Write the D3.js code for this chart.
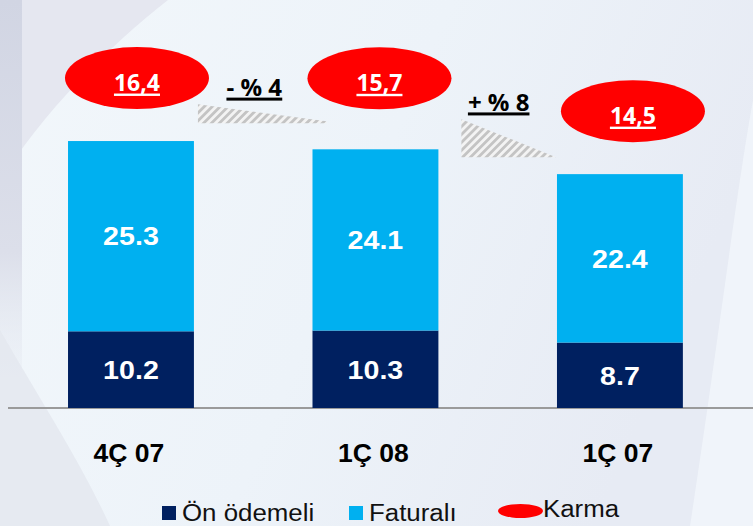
<!DOCTYPE html>
<html><head><meta charset="utf-8">
<script src="https://cdn.jsdelivr.net/npm/d3@7"></script>
<style>html,body{margin:0;padding:0;overflow:hidden;background:#eef4fa}</style>
</head><body>
<svg id="c" width="753" height="526"></svg>
<script>
// ---- data ----
const categories = ["4Ç 07", "1Ç 08", "1Ç 07"];
const onOdemeli = [10.2, 10.3, 8.7];
const faturali = [25.3, 24.1, 22.4];
const karma = [16.4, 15.7, 14.5];
const changeLabels = ["- % 4", "+ % 8"];
const changeValues = [4, 8];
const legendLabels = ["Ön ödemeli", "Faturalı", "Karma"];

// ---- layout ----
const W = 753, H = 526;
const colors = { on: "#002060", fat: "#00b0f0", karma: "#ff0000" };
const karmaDx = [6, 4, 13], karmaLift = [63, 71, 63];
const triGap = [26, 17];
const calibriLike = "'Open Sans', Lato, sans-serif";

const svg = d3.select("#c");
const defs = svg.append("defs");

// background
const g1 = defs.append("linearGradient").attr("id", "bg").attr("x1", 0).attr("y1", 0).attr("x2", 1).attr("y2", 0.3);
g1.append("stop").attr("offset", 0).attr("stop-color", "#f2f7fb");
g1.append("stop").attr("offset", 0.55).attr("stop-color", "#edf3f9");
g1.append("stop").attr("offset", 1).attr("stop-color", "#e7ebf4");
svg.append("rect").attr("width", W).attr("height", H).attr("fill", "url(#bg)");
svg.append("path").attr("d", "M0,0H168C110,45 40,115 0,182Z").attr("fill", "#e5e7f0");
const g2 = defs.append("linearGradient").attr("id", "strip").attr("x1", 0).attr("y1", 0).attr("x2", 0).attr("y2", 1);
g2.append("stop").attr("offset", 0).attr("stop-color", "#d1d5e3");
g2.append("stop").attr("offset", 0.6).attr("stop-color", "#dcdfea");
g2.append("stop").attr("offset", 1).attr("stop-color", "#e8ecf3").attr("stop-opacity", 0);
svg.append("rect").attr("width", 22).attr("height", 420).attr("fill", "url(#strip)");
svg.append("path").attr("d", "M0,330C40,400 80,460 110,526H0Z").attr("fill", "#e4e7ef").attr("opacity", 0.8);
svg.append("path").attr("d", "M753,100C735,200 720,330 690,526H753Z").attr("fill", "#f4f8fc").attr("opacity", 0.7);

// hatch pattern
const pat = defs.append("pattern").attr("id", "hatch").attr("patternUnits", "userSpaceOnUse")
  .attr("width", 5.6).attr("height", 5.6).attr("patternTransform", "rotate(45)");
pat.append("rect").attr("width", 5.6).attr("height", 5.6).attr("fill", "#f3f3f3");
pat.append("rect").attr("width", 2.8).attr("height", 5.6).attr("fill", "#c4c4c4");

// scales
const x = d3.scaleBand().domain(categories).range([6.9, 744]).paddingInner(0.485).paddingOuter(0.25);
const y = d3.scaleLinear().domain([0, 40]).range([408, 107.2]);
const bw = x.bandwidth();
const totals = categories.map((c, i) => onOdemeli[i] + faturali[i]);
const triH = d3.scaleLinear().domain([0, 8]).range([0, 38]);

function stretch(sel, f) {
  sel.each(function () {
    const L = this.getComputedTextLength();
    d3.select(this).attr("textLength", L * f).attr("lengthAdjust", "spacingAndGlyphs");
  });
}

// baseline
svg.append("line").attr("x1", 8).attr("x2", W).attr("y1", y(0)).attr("y2", y(0))
  .attr("stroke", "#9a9a9a").attr("stroke-width", 2);

// bars
const barG = svg.append("g");
barG.selectAll("rect.on").data(categories).join("rect")
  .attr("x", d => x(d)).attr("width", bw)
  .attr("y", (d, i) => y(onOdemeli[i])).attr("height", (d, i) => y(0) - y(onOdemeli[i]))
  .attr("fill", colors.on);
barG.selectAll("rect.fat").data(categories).join("rect")
  .attr("x", d => x(d)).attr("width", bw)
  .attr("y", (d, i) => y(totals[i])).attr("height", (d, i) => y(onOdemeli[i]) - y(totals[i]))
  .attr("fill", colors.fat);

const fmt = d3.format(".1f");
const lblFont = "'Liberation Sans', Arial, sans-serif";
function barLabel(vals, lo, hi) {
  barG.selectAll(null).data(categories).join("text")
    .attr("x", d => x(d) + bw / 2)
    .attr("y", (d, i) => (y(lo(i)) + y(hi(i))) / 2 + 9.3)
    .attr("text-anchor", "middle").attr("fill", "#fff")
    .attr("font-family", lblFont).attr("font-weight", "bold").attr("font-size", 26)
    .text((d, i) => fmt(vals[i]))
    .call(stretch, 1.1);
}
barLabel(faturali, i => onOdemeli[i], i => totals[i]);
barLabel(onOdemeli, i => 0, i => onOdemeli[i]);

// category axis
const ax = svg.append("g").attr("transform", `translate(0,${y(0)})`)
  .call(d3.axisBottom(x).tickSize(0));
ax.select(".domain").remove();
ax.selectAll("text").attr("y", 53.5).attr("dy", 0).attr("dx", -2)
  .attr("font-family", lblFont).attr("font-weight", "bold").attr("font-size", 26.5).attr("fill", "#000");

// karma ellipses
const kFmt = v => d3.format(".1f")(v).replace(".", ",");
const kG = svg.append("g");
kG.selectAll("ellipse").data(categories).join("ellipse")
  .attr("cx", (d, i) => x(d) + bw / 2 + karmaDx[i])
  .attr("cy", (d, i) => y(totals[i]) - karmaLift[i])
  .attr("rx", 72).attr("ry", 31).attr("fill", colors.karma);
const kT = kG.selectAll("text").data(categories).join("text")
  .attr("x", (d, i) => x(d) + bw / 2 + karmaDx[i])
  .attr("y", (d, i) => y(totals[i]) - karmaLift[i] + 12.5)
  .attr("text-anchor", "middle").attr("fill", "#fff")
  .attr("font-family", calibriLike).attr("font-weight", "bold").attr("font-size", 23)
  .text((d, i) => kFmt(karma[i]));
kT.each(function (d, i) {
  const b = this.getBBox();
  kG.append("rect").attr("x", b.x).attr("width", b.width)
    .attr("y", +this.getAttribute("y") + 3).attr("height", 2.4).attr("fill", "#fff");
});

// change triangles and labels
const cG = svg.append("g");
changeLabels.forEach((lab, i) => {
  const x0 = i === 0 ? x(categories[0]) + bw + 4 : x(categories[1]) + bw + 23;
  const x1 = i === 0 ? x(categories[1]) + 14 : x(categories[2]) - 1;
  const base = y(totals[i + 1]) - triGap[i];
  const h = triH(changeValues[i]);
  cG.append("path").attr("d", `M${x0},${base - h}L${x1},${base - (i === 0 ? 2 : 0)}L${x1},${base}L${x0},${base}Z`)
    .attr("fill", "url(#hatch)");
  const cx = (x(categories[i]) + x(categories[i + 1]) + bw) / 2 + 1;
  const ty = base - h - 8.5;
  const t = cG.append("text").attr("x", cx).attr("y", ty).attr("text-anchor", "middle")
    .attr("font-family", calibriLike).attr("font-weight", "bold").attr("font-size", 24)
    .attr("fill", "#000").text(lab);
  const b = t.node().getBBox();
  cG.append("rect").attr("x", b.x).attr("width", b.width).attr("y", ty + 1.8).attr("height", 3).attr("fill", "#000");
});

// legend
const legX = [162, 349, 498];
const lg = svg.append("g");
lg.append("rect").attr("x", legX[0]).attr("y", 506).attr("width", 14).attr("height", 14).attr("fill", colors.on);
lg.append("rect").attr("x", legX[1]).attr("y", 506).attr("width", 14).attr("height", 14).attr("fill", colors.fat);
lg.append("ellipse").attr("cx", legX[2] + 22.5).attr("cy", 511).attr("rx", 22.5).attr("ry", 7).attr("fill", colors.karma);
lg.selectAll("text").data(legendLabels).join("text")
  .attr("x", (d, i) => i < 2 ? legX[i] + 20 : legX[i] + 45)
  .attr("y", (d, i) => i < 2 ? 520.5 : 517.3)
  .attr("font-family", lblFont).attr("font-size", 23.5).attr("fill", "#111")
  .text(d => d)
  .call(stretch, 1.1);
</script>
</body></html>
